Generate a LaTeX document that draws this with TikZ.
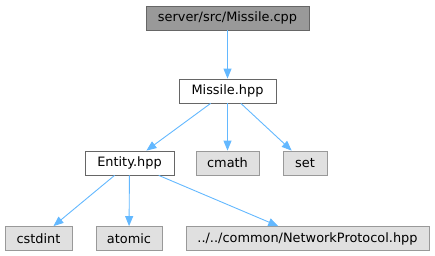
\documentclass[tikz,border=0pt]{standalone}
\usepackage{fontspec}
\setmainfont{DejaVu Sans}
\definecolor{edgeBlue}{HTML}{63B8FF}
\definecolor{rootFill}{HTML}{999999}
\definecolor{sysFill}{HTML}{E0E0E0}
\definecolor{darkBorder}{HTML}{666666}
\definecolor{lightBorder}{HTML}{999999}
\usetikzlibrary{arrows.meta}

\tikzset{
  file/.style={draw=darkBorder,fill=white,line width=0.8pt,minimum height=24pt,inner sep=0pt,font=\fontsize{12.9}{15}\selectfont},
  rootfile/.style={file,fill=rootFill},
  sysfile/.style={file,draw=lightBorder,fill=sysFill},
  dep/.style={draw=edgeBlue,line width=0.9pt,-{Triangle[length=10pt,width=8pt]}}
}

\begin{document}
\begin{tikzpicture}[x=1pt,y=-1pt]
  \useasboundingbox (0,0) rectangle (435,256);
  % include tree, one row per level
  \node[rootfile,minimum width=163pt] (cpp) at (227.5,18) {server/src/Missile.cpp};
  \node[file,minimum width=97pt] (missile) at (227.5,91) {Missile.hpp};
  \node[file,minimum width=89pt] (entity) at (129.5,163) {Entity.hpp};
  \node[sysfile,minimum width=63pt] (cmath) at (227.5,163) {cmath};
  \node[sysfile,minimum width=44pt] (set) at (305,163) {set};
  \node[sysfile,minimum width=67pt] (cstdint) at (38.5,238.5) {cstdint};
  \node[sysfile,minimum width=66pt] (atomic) at (129,238.5) {atomic};
  \node[sysfile,minimum width=243pt] (netproto) at (307.5,238.5) {../../common/NetworkProtocol.hpp};

  \draw[dep] (cpp) -- (missile);
  \draw[dep] (missile) -- (entity);
  \draw[dep] (missile) -- (cmath);
  \draw[dep] (missile) -- (set);
  \draw[dep] (entity) -- (cstdint);
  \draw[dep] (entity) -- (atomic);
  \draw[dep] (entity) -- (netproto);
\end{tikzpicture}
\end{document}
